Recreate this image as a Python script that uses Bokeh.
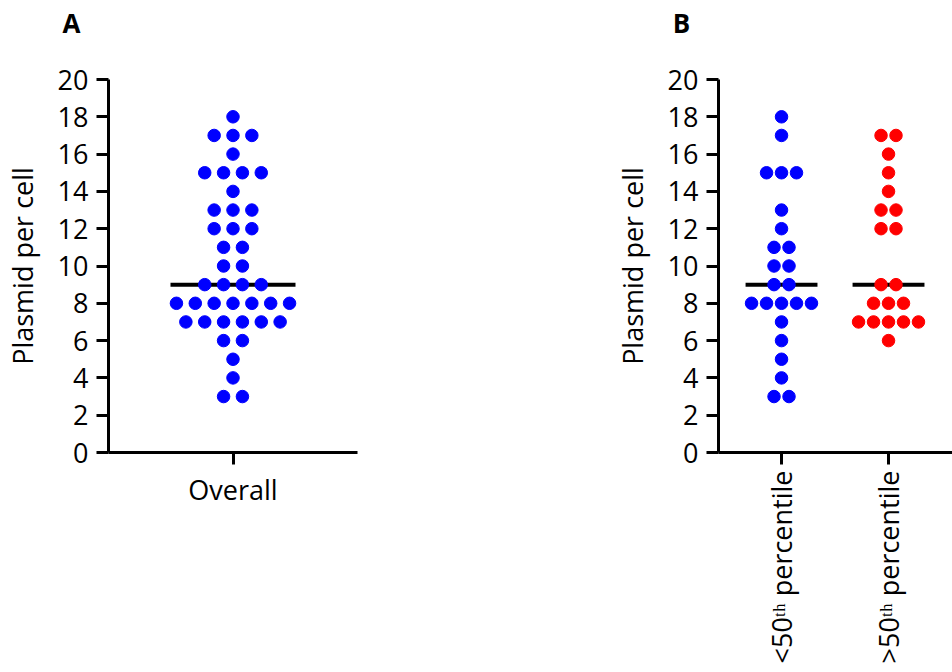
from collections import Counter

import numpy as np
from bokeh.core.properties import value
from bokeh.embed import file_html
from bokeh.layouts import column, row
from bokeh.models import FixedTicker, Range1d
from bokeh.plotting import figure
from bokeh.resources import INLINE

# Plasmid copies per cell, one entry per cell
overall = [18, 17, 17, 17, 16, 15, 15, 15, 15, 14, 13, 13, 13, 12, 12, 12,
           11, 11, 10, 10, 9, 9, 9, 9, 8, 8, 8, 8, 8, 8, 8,
           7, 7, 7, 7, 7, 7, 6, 6, 5, 4, 3, 3]
below_50th = [18, 17, 15, 15, 15, 13, 12, 11, 11, 10, 10, 9, 9,
              8, 8, 8, 8, 8, 7, 6, 5, 4, 3, 3]
above_50th = [17, 17, 16, 15, 14, 13, 13, 12, 12, 9, 9,
              8, 8, 8, 7, 7, 7, 7, 7, 6]

panel_letters = ["A", "B"]
categories_a = ["Overall"]
categories_b = ["<50ᵗʰ percentile", ">50ᵗʰ percentile"]
y_ticks = list(range(0, 21, 2))

FONT = "Open Sans"
FONT_SIZE = "27px"
BLUE = "#0000FF"
RED = "#FF0000"
HEADER_H = 42
PANEL_W = 476
PANEL_H = 672 - HEADER_H


def swarm(values, center, step):
    """Spread equal values side by side around the category centre."""
    counts = Counter(values)
    seen = Counter()
    xs, ys = [], []
    for v in values:
        n = counts[v]
        i = seen[v]
        seen[v] += 1
        xs.append(center + (i - (n - 1) / 2) * step)
        ys.append(v)
    return xs, ys


def style(p, tick_labels):
    p.grid.visible = False
    p.outline_line_color = None
    p.background_fill_color = "white"
    p.border_fill_color = "white"
    for ax in (p.xaxis[0], p.yaxis[0]):
        ax.axis_line_width = 3
        ax.major_tick_line_width = 3
        ax.major_tick_out = 12
        ax.major_tick_in = 0
        ax.minor_tick_line_color = None
        ax.major_label_text_font = FONT
        ax.major_label_text_font_size = FONT_SIZE
        ax.major_label_text_color = "black"
        ax.axis_line_color = "black"
        ax.major_tick_line_color = "black"
    p.yaxis.ticker = FixedTicker(ticks=y_ticks)
    p.yaxis.major_label_standoff = 8
    p.yaxis.axis_label = "Plasmid per cell"
    p.yaxis.axis_label_text_font = FONT
    p.yaxis.axis_label_text_font_size = FONT_SIZE
    p.yaxis.axis_label_text_font_style = "normal"
    p.yaxis.axis_label_text_color = "black"
    p.yaxis.axis_label_standoff = 14
    ticks = list(range(1, len(tick_labels) + 1))
    p.xaxis.ticker = FixedTicker(ticks=ticks)
    p.xaxis.major_label_overrides = {t: s for t, s in zip(ticks, tick_labels)}
    p.xaxis.major_label_standoff = 6


# Strip across the top carrying the panel letters (pixel coordinates)
header = figure(width=2 * PANEL_W, height=HEADER_H, output_backend="svg",
                toolbar_location=None, x_range=Range1d(0, 2 * PANEL_W),
                y_range=Range1d(HEADER_H, 0), x_axis_type=None, y_axis_type=None,
                min_border=0, outline_line_color=None)
header.grid.visible = False
header.text(x=[71, 681], y=[22, 22], text=panel_letters,
            text_font=value(FONT), text_font_style="bold", text_font_size="26px",
            text_color="black", text_align="center", text_baseline="middle")

# Panel A: all cells pooled
pa = figure(width=PANEL_W, height=PANEL_H, output_backend="svg", toolbar_location=None,
            x_range=Range1d(0, 2), y_range=Range1d(0, 20),
            min_border_left=106, min_border_right=119,
            min_border_top=79 - HEADER_H, min_border_bottom=220)
style(pa, categories_a)
xa, ya = swarm(overall, 1, 0.1514)
med_a = float(np.median(overall))
pa.segment(x0=[1 - 0.502], x1=[1 + 0.502], y0=[med_a], y1=[med_a],
           line_color="black", line_width=4)
pa.scatter(xa, ya, size=12.5, fill_color=BLUE, line_color=BLUE)

# Panel B: cells split at the 50th percentile
pb = figure(width=PANEL_W, height=PANEL_H, output_backend="svg", toolbar_location=None,
            x_range=Range1d(0.411, 2.598), y_range=Range1d(0, 20),
            min_border_left=242, min_border_right=0,
            min_border_top=79 - HEADER_H, min_border_bottom=220)
style(pb, categories_b)
pb.xaxis.major_label_orientation = np.pi / 2
for center, vals, color in ((1, below_50th, BLUE), (2, above_50th, RED)):
    xb, yb = swarm(vals, center, 0.140)
    med = float(np.median(vals))
    pb.segment(x0=[center - 0.336], x1=[center + 0.336], y0=[med], y1=[med],
               line_color="black", line_width=4)
    pb.scatter(xb, yb, size=12.5, fill_color=color, line_color=color)

layout = column(header, row(pa, pb))
open("out.html", "w").write(file_html(layout, INLINE))
